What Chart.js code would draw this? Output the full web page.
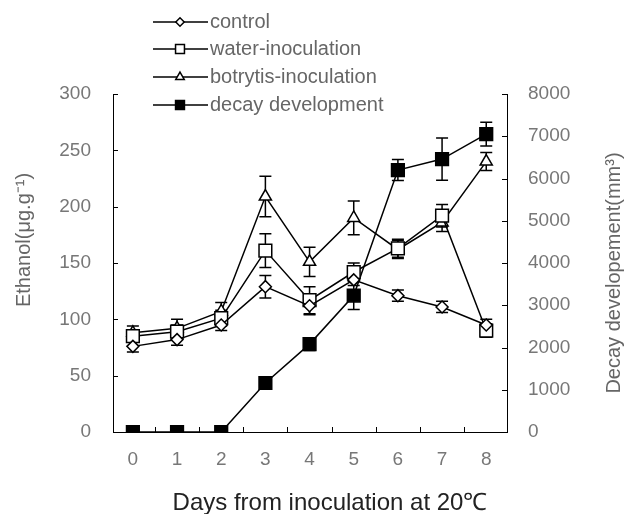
<!DOCTYPE html>
<html>
<head>
<meta charset="utf-8">
<script src="https://cdn.jsdelivr.net/npm/chart.js@4"></script>
<style>
  html, body { margin: 0; padding: 0; background: #fff; }
  #wrap { width: 625px; height: 514px; }
</style>
</head>
<body>
<div id="wrap"><canvas id="chart" width="625" height="514"></canvas></div>
<script>
// values
const days = [0, 1, 2, 3, 4, 5, 6, 7, 8];
const control = [76, 82, 95, 129, 112, 135, 121, 111, 95];
const controlErr = [5, 5, 5, 10, 8, 5, 5, 5, 5];
const water = [85, 89, 101, 161, 117, 142, 163, 192, 90];
const waterErr = [5, 6, 7, 15, 12, 8, 8, 10, 6];
const botrytis = [88, 92, 107, 209, 151, 190, 162, 186, 240];
const botrytisErr = [6, 8, 8, 18, 13, 15, 8, 8, 8];
const decay = [0, 0, 0, 1160, 2080, 3230, 6200, 6460, 7050];
const decayErr = [0, 0, 0, 40, 150, 330, 250, 500, 280];
const ethanolTicks = [0, 50, 100, 150, 200, 250, 300];
const decayTicks = [0, 1000, 2000, 3000, 4000, 5000, 6000, 7000, 8000];

const FONT = '"Liberation Sans", Arial, sans-serif';

function pts(vals) {
    return days.map((d, i) => ({x: d, y: vals[i]}));
}

// error bars under the markers
const errorBars = {
    id: 'errorBars',
    beforeDatasetsDraw(chart) {
        const ctx = chart.ctx;
        ctx.save();
        ctx.strokeStyle = '#000';
        ctx.lineWidth = 1.5;
        chart.data.datasets.forEach((ds, i) => {
            const ys = chart.scales[ds.yAxisID];
            const xs = chart.scales.x;
            ds.data.forEach((p, j) => {
                const e = ds.errs[j];
                if (!e) return;
                const x = xs.getPixelForValue(p.x);
                const y1 = ys.getPixelForValue(p.y - e);
                const y2 = ys.getPixelForValue(p.y + e);
                ctx.beginPath();
                ctx.moveTo(x, y1); ctx.lineTo(x, y2);
                ctx.moveTo(x - 6, y1); ctx.lineTo(x + 6, y1);
                ctx.moveTo(x - 6, y2); ctx.lineTo(x + 6, y2);
                ctx.stroke();
            });
        });
        ctx.restore();
    }
};

// tick marks, titles and the legend box
const decorations = {
    id: 'decorations',
    afterDraw(chart) {
        const ctx = chart.ctx;
        const a = chart.chartArea;
        const xs = chart.scales.x, yl = chart.scales.y, yr = chart.scales.y2;
        ctx.save();
        ctx.strokeStyle = '#000';
        ctx.lineWidth = 1;
        ctx.beginPath();
        ethanolTicks.forEach(v => {
            const y = Math.round(yl.getPixelForValue(v)) + 0.5;
            ctx.moveTo(a.left, y); ctx.lineTo(a.left + 5, y);
        });
        decayTicks.forEach(v => {
            const y = Math.round(yr.getPixelForValue(v)) + 0.5;
            ctx.moveTo(a.right - 5, y); ctx.lineTo(a.right, y);
        });
        for (let k = 0; k < days.length - 1; k++) {
            const x = Math.round(xs.getPixelForValue(k + 0.5)) + 0.5;
            ctx.moveTo(x, a.bottom); ctx.lineTo(x, a.bottom - 5);
        }
        ctx.stroke();

        // axis titles
        ctx.fillStyle = '#666';
        ctx.font = '20px ' + FONT;
        ctx.textAlign = 'center';
        ctx.textBaseline = 'middle';
        ctx.save();
        ctx.translate(24, 240);
        ctx.rotate(-Math.PI / 2);
        ctx.fillText('Ethanol(\u03bcg.g\u207b\u00b9)', 0, 0);
        ctx.restore();
        ctx.save();
        ctx.translate(614, 273);
        ctx.rotate(-Math.PI / 2);
        ctx.fillText('Decay developement(mm\u00b3)', 0, 0);
        ctx.restore();
        ctx.fillStyle = '#222';
        ctx.font = '24px ' + FONT;
        ctx.fillText('Days from inoculation at 20\u2103', 330, 503);

        // legend
        const rows = [22, 49, 77, 105];
        ctx.font = '20px ' + FONT;
        ctx.textAlign = 'left';
        chart.data.datasets.forEach((ds, i) => {
            const y = rows[i];
            ctx.strokeStyle = '#000';
            ctx.lineWidth = 1.5;
            ctx.beginPath();
            ctx.moveTo(153, y); ctx.lineTo(208, y);
            ctx.stroke();
            ctx.fillStyle = ds.pointBackgroundColor;
            Chart.helpers.drawPoint(ctx, {pointStyle: ds.pointStyle, radius: ds.pointRadius * 0.7, rotation: 0, borderWidth: 1.5}, 180, y);
            ctx.fillStyle = '#666';
            ctx.fillText(ds.label, 210, y);
        });
        ctx.restore();
    }
};

const tickFont = {family: FONT, size: 19};

const chart = new Chart(document.getElementById('chart'), {
    type: 'line',
    data: {
        datasets: [{
            label: 'control',
            data: pts(control),
            errs: controlErr,
            yAxisID: 'y',
            pointStyle: 'rectRot',
            pointRadius: 6,
            pointBackgroundColor: '#fff'
        }, {
            label: 'water-inoculation',
            data: pts(water),
            errs: waterErr,
            yAxisID: 'y',
            pointStyle: 'rect',
            pointRadius: 9,
            pointBackgroundColor: '#fff'
        }, {
            label: 'botrytis-inoculation',
            data: pts(botrytis),
            errs: botrytisErr,
            yAxisID: 'y',
            pointStyle: 'triangle',
            pointRadius: 7,
            pointBackgroundColor: '#fff'
        }, {
            label: 'decay development',
            data: pts(decay),
            errs: decayErr,
            yAxisID: 'y2',
            pointStyle: 'rect',
            pointRadius: 9,
            pointBackgroundColor: '#000'
        }]
    },
    options: {
        responsive: false,
        animation: false,
        layout: {padding: {top: 94, left: 0, right: 0, bottom: 0}},
        elements: {
            line: {borderColor: '#000', borderWidth: 1.5, tension: 0},
            point: {borderColor: '#000', borderWidth: 1.5}
        },
        plugins: {legend: {display: false}, tooltip: {enabled: false}},
        scales: {
            x: {
                type: 'linear',
                min: -0.45,
                max: 8.47,
                afterBuildTicks: s => { s.ticks = days.map(v => ({value: v})); },
                afterFit: s => { s.height = 82; },
                grid: {display: true, drawOnChartArea: false, drawTicks: false},
                border: {display: true, color: '#000', width: 1},
                ticks: {color: '#777', padding: 16, font: tickFont, callback: v => String(v)}
            },
            y: {
                position: 'left',
                min: 0,
                max: 300,
                afterBuildTicks: s => { s.ticks = ethanolTicks.map(v => ({value: v})); },
                afterFit: s => { s.width = 113; },
                grid: {display: true, drawOnChartArea: false, drawTicks: false},
                border: {display: true, color: '#000', width: 1},
                ticks: {color: '#777', padding: 22, font: tickFont, callback: v => String(v)}
            },
            y2: {
                position: 'right',
                min: 0,
                max: 8000,
                afterBuildTicks: s => { s.ticks = decayTicks.map(v => ({value: v})); },
                afterFit: s => { s.width = 118; },
                grid: {display: true, drawOnChartArea: false, drawTicks: false},
                border: {display: true, color: '#000', width: 1},
                ticks: {color: '#777', padding: 21, font: tickFont, callback: v => String(v)}
            }
        }
    },
    plugins: [errorBars, decorations]
});
</script>
</body>
</html>
